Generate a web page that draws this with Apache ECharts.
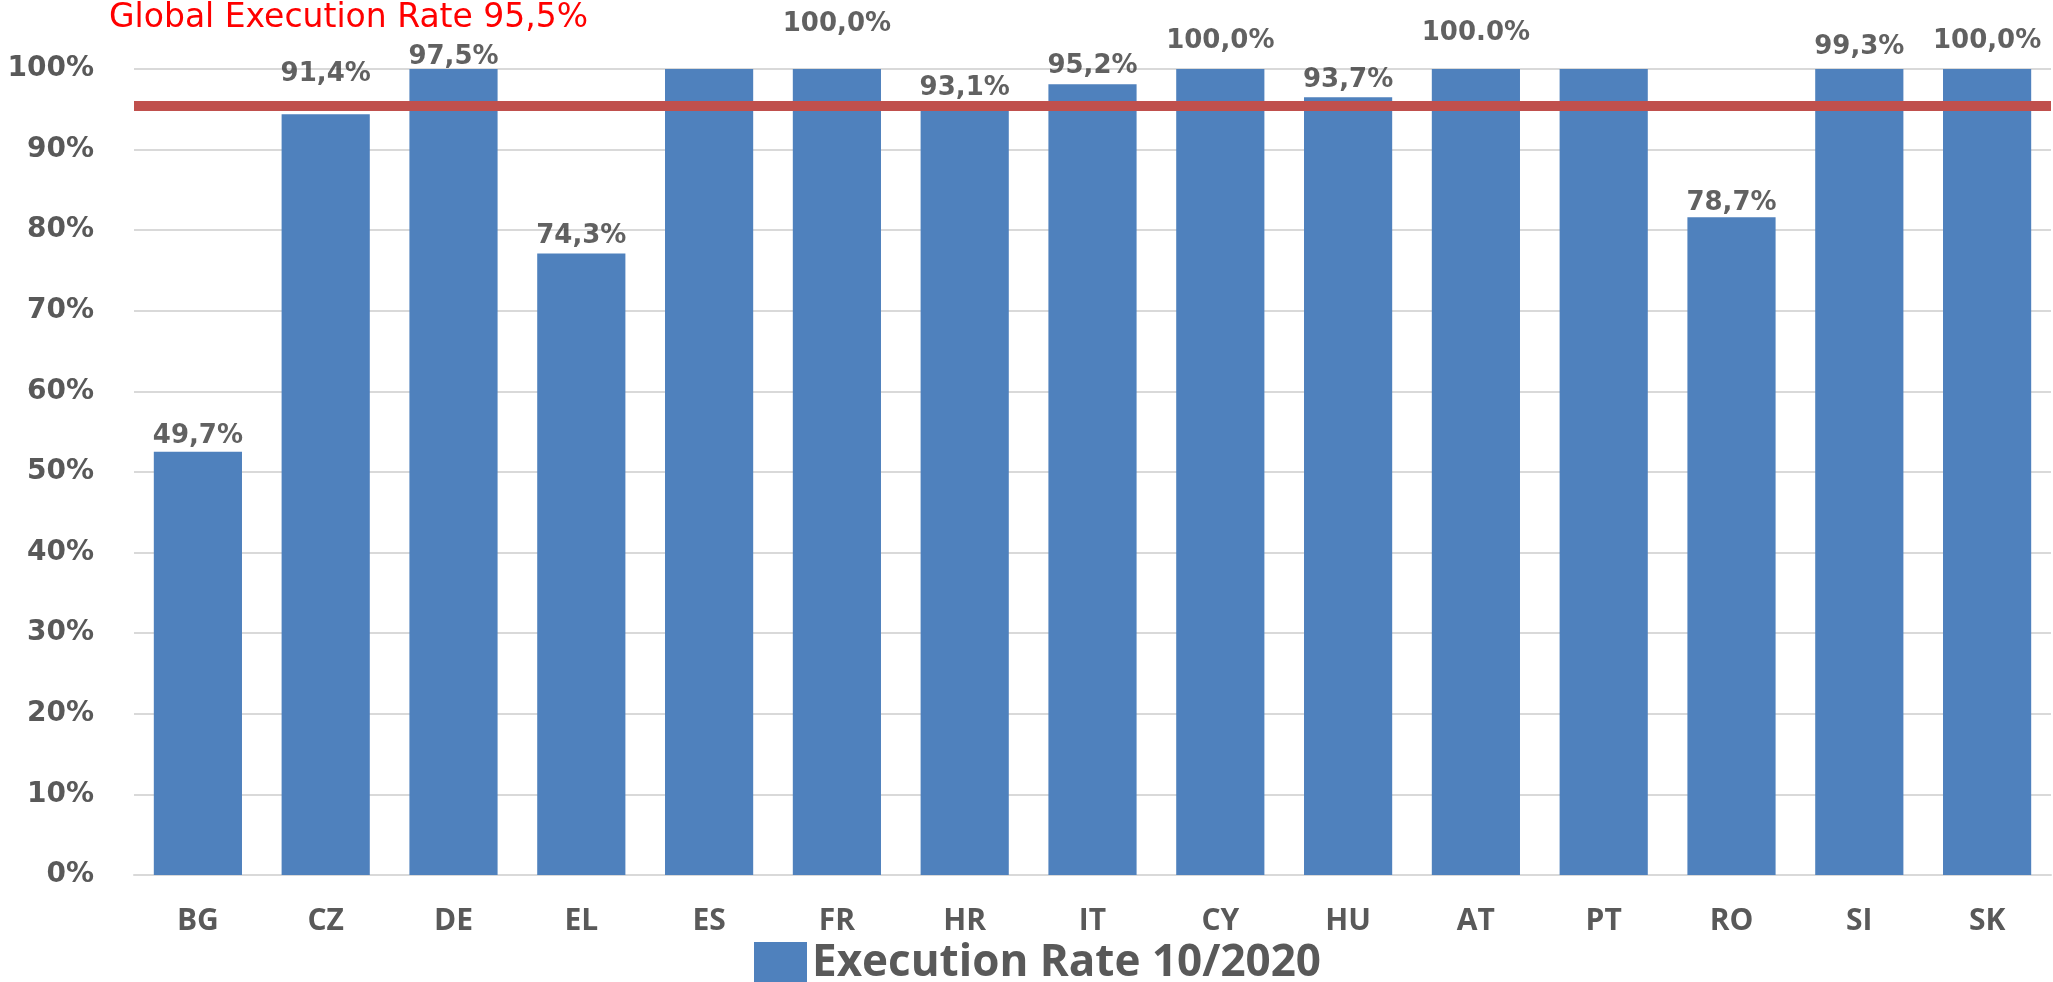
<!DOCTYPE html>
<html>
<head>
<meta charset="utf-8">
<script src="https://cdn.jsdelivr.net/npm/echarts@6/dist/echarts.min.js"></script>
<style>
  html, body { margin: 0; padding: 0; background: #ffffff; }
  #chart { width: 2053px; height: 982px; }
</style>
</head>
<body>
<div id="chart"></div>
<script>
// ---- data ----
const categories = ['BG', 'CZ', 'DE', 'EL', 'ES', 'FR', 'HR', 'IT', 'CY', 'HU', 'AT', 'PT', 'RO', 'SI', 'SK'];
// bar heights as drawn (percent)
const barValues = [52.5, 94.4, 100, 77.1, 100, 100, 95.5, 98.1, 100, 96.5, 100, 100, 81.6, 100, 100];
// data label texts as printed on the chart ('' = no label)
const labelTexts = ['49,7%', '91,4%', '97,5%', '74,3%', '', '100,0%', '93,1%', '95,2%', '100,0%', '93,7%', '100.0%', '', '78,7%', '99,3%', '100,0%'];
// level (in axis percent) at which each label is centred
const labelLevels = [54.4, 99.4, 101.4, 79.2, null, 105.6, 97.6, 100.4, 103.4, 98.6, 104.4, null, 83.4, 102.7, 103.4];
const globalRate = 95.5;
const seriesName = 'Execution Rate 10/2020';
const titleText = 'Global Execution Rate 95,5%';
const yTicks = { min: 0, max: 100, interval: 10 };

const chart = echarts.init(document.getElementById('chart'), null, { renderer: 'canvas' });

const labelPoints = [];
categories.forEach((c, i) => {
  if (labelTexts[i] && labelLevels[i] != null) {
    labelPoints.push({ value: [c, labelLevels[i]], txt: labelTexts[i] });
  }
});

const option = {
  backgroundColor: '#ffffff',
  animation: false,
  title: {
    text: titleText,
    left: 109,
    top: 2,
    padding: 0,
    textStyle: {
      color: '#FF0000',
      fontSize: 33,
      fontWeight: 'normal',
      fontFamily: 'DejaVu Sans'
    }
  },
  legend: {
    data: [seriesName],
    left: 754,
    top: 941,
    padding: 0,
    icon: 'rect',
    itemWidth: 53,
    itemHeight: 42,
    itemGap: 4,
    textStyle: {
      color: '#595959',
      fontSize: 44,
      fontWeight: 'bold',
      fontFamily: 'Open Sans',
      padding: [0, 0, 8, 0]
    }
  },
  grid: {
    left: 134,
    right: 2,
    top: 69,
    bottom: 107,
    containLabel: false
  },
  xAxis: {
    type: 'category',
    data: categories,
    axisTick: { show: false },
    axisLine: { show: true, lineStyle: { color: '#D9D9D9', width: 2 } },
    axisLabel: {
      color: '#595959',
      fontSize: 30,
      fontWeight: 'bold',
      fontFamily: 'Open Sans',
      margin: 31
    }
  },
  yAxis: {
    type: 'value',
    min: yTicks.min,
    max: yTicks.max,
    interval: yTicks.interval,
    axisLine: { show: false },
    axisTick: { show: false },
    splitLine: { lineStyle: { color: '#D9D9D9', width: 2 } },
    axisLabel: {
      formatter: '{value}%',
      color: '#595959',
      fontSize: 28,
      fontWeight: 'bold',
      fontFamily: 'DejaVu Sans',
      margin: 40
    }
  },
  series: [
    {
      name: seriesName,
      type: 'bar',
      data: barValues,
      barWidth: '69%',
      itemStyle: { color: '#4F81BD' },
      z: 2,
      markLine: {
        silent: true,
        symbol: 'none',
        label: { show: false },
        lineStyle: { color: '#C0504D', width: 10, type: 'solid', opacity: 1 },
        emphasis: { disabled: true },
        data: [{ yAxis: globalRate }]
      }
    },
    {
      name: 'labels',
      type: 'scatter',
      data: labelPoints,
      symbolSize: 0,
      clip: false,
      silent: true,
      z: 10,
      label: {
        show: true,
        position: 'inside',
        formatter: p => p.data.txt,
        color: '#3A3A3A',
        fontSize: 26,
        fontWeight: 'bold',
        fontFamily: 'DejaVu Sans'
      }
    }
  ]
};

chart.setOption(option);
</script>
</body>
</html>
